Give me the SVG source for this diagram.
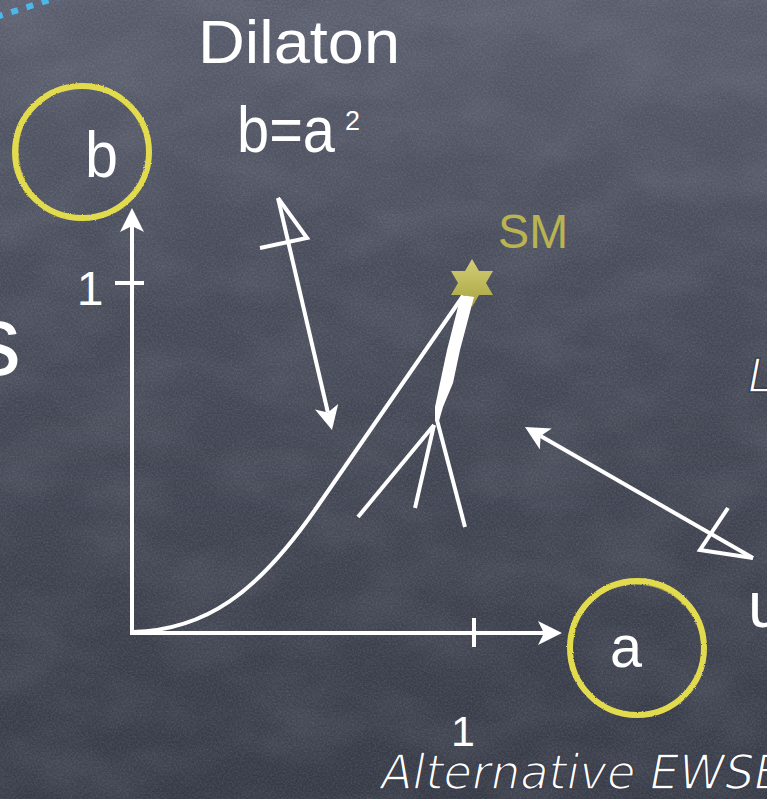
<svg xmlns="http://www.w3.org/2000/svg" width="767" height="799" viewBox="0 0 767 799">
  <defs>
    <linearGradient id="bg" x1="0" y1="0" x2="0" y2="1">
      <stop offset="0" stop-color="#575b6b"/>
      <stop offset="0.35" stop-color="#474b59"/>
      <stop offset="1" stop-color="#363a46"/>
    </linearGradient>
    <linearGradient id="starfill" x1="0" y1="0" x2="0" y2="1">
      <stop offset="0" stop-color="#d3cf78"/>
      <stop offset="1" stop-color="#a9a340"/>
    </linearGradient>
    <filter id="grain" x="0" y="0" width="100%" height="100%">
      <feTurbulence type="fractalNoise" baseFrequency="0.55" numOctaves="2" seed="7"/>
      <feColorMatrix type="matrix" values="0 0 0 0 1  0 0 0 0 1  0 0 0 0 1  0.2 0 0 0 -0.07"/>
    </filter>
    <filter id="blotch" x="0" y="0" width="100%" height="100%">
      <feTurbulence type="fractalNoise" baseFrequency="0.012 0.02" numOctaves="3" seed="11"/>
      <feColorMatrix type="matrix" values="0 0 0 0 0.8  0 0 0 0 0.82  0 0 0 0 0.9  0.14 0 0 0 -0.05"/>
    </filter>
    <filter id="chalk" x="-10%" y="-10%" width="120%" height="120%">
      <feTurbulence type="fractalNoise" baseFrequency="0.9" numOctaves="1" seed="3" result="t"/>
      <feDisplacementMap in="SourceGraphic" in2="t" scale="2.5" xChannelSelector="R" yChannelSelector="G"/>
    </filter>
    <marker id="ah" viewBox="0 0 24 24" refX="6" refY="12" markerWidth="24" markerHeight="24" markerUnits="userSpaceOnUse" orient="auto">
      <path d="M0,0 L24,12 L0,24 L6,12 Z" fill="#ffffff"/>
    </marker>
    <style>
      .chalk { font-family: "Liberation Sans", "DejaVu Sans", sans-serif; fill: #ffffff; }
      .hand { font-family: "DejaVu Sans", "Liberation Sans", sans-serif; font-weight: 200; font-style: italic; fill: #ffffff; stroke: #3c404c; stroke-width: 1.6; paint-order: normal; }
      .line { fill: none; stroke: #ffffff; stroke-width: 4; stroke-linecap: butt; stroke-linejoin: miter; }
      .ring { fill: none; stroke: #e2db4e; }
      .sm { font-family: "Liberation Sans", "DejaVu Sans", sans-serif; fill: #b9b451; }
    </style>
  </defs>

  <g id="background">
    <rect x="0" y="0" width="767" height="799" fill="url(#bg)"/>
    <rect x="0" y="0" width="767" height="799" filter="url(#blotch)"/>
    <rect x="0" y="0" width="767" height="799" filter="url(#grain)"/>
  </g>

  <g id="blue-dots">
    <line x1="-4" y1="17" x2="62" y2="-4" stroke="#4cb8ea" stroke-width="6" stroke-dasharray="7 9"/>
  </g>

  <g id="edge-text">
    <text class="chalk" x="21" y="375" font-size="100" text-anchor="end">s</text>
    <text class="hand" x="748" y="392" font-size="46">L</text>
    <text class="chalk" x="748" y="627" font-size="64">u</text>
  </g>

  <g id="label-dilaton">
    <text class="chalk" x="198" y="63" font-size="62" textLength="202" lengthAdjust="spacingAndGlyphs">Dilaton</text>
    <text class="chalk" x="237" y="152" font-size="64" textLength="98" lengthAdjust="spacingAndGlyphs">b=a</text>
    <text class="chalk" x="345" y="130" font-size="27">2</text>
  </g>

  <g id="node-b">
    <ellipse class="ring" cx="82" cy="152" rx="67" ry="66" stroke-width="6" filter="url(#chalk)"/>
    <ellipse class="ring" cx="83" cy="151" rx="65" ry="66" stroke-width="1.5" opacity="0.6" filter="url(#chalk)"/>
    <text class="chalk" x="85" y="177" font-size="64" textLength="33" lengthAdjust="spacingAndGlyphs">b</text>
  </g>

  <g id="node-a">
    <ellipse class="ring" cx="637" cy="648" rx="67" ry="67" stroke-width="6" filter="url(#chalk)"/>
    <ellipse class="ring" cx="636" cy="649" rx="66" ry="65" stroke-width="1.5" opacity="0.6" filter="url(#chalk)"/>
    <text class="chalk" x="610" y="667" font-size="60" textLength="32" lengthAdjust="spacingAndGlyphs">a</text>
  </g>

  <g id="axes">
    <line class="line" x1="132" y1="634" x2="132" y2="226" stroke-width="4.5" marker-end="url(#ah)"/>
    <line class="line" x1="130" y1="633" x2="544" y2="633" stroke-width="5" marker-end="url(#ah)"/>
    <line class="line" x1="115" y1="283" x2="144" y2="283"/>
    <line class="line" x1="474" y1="618" x2="474" y2="647"/>
    <text class="chalk" x="90" y="305" font-size="48" text-anchor="middle">1</text>
    <text class="chalk" x="463" y="746" font-size="43" text-anchor="middle">1</text>
  </g>

  <g id="node-sm">
    <polygon points="472,259 479,271 493,271 486,283 493,295 479,295 472,307 465,295 451,295 458,283 451,271 465,271" fill="url(#starfill)"/>
    <text class="sm" x="498" y="248" font-size="48" textLength="70" lengthAdjust="spacingAndGlyphs">SM</text>
  </g>

  <g id="curve">
    <path class="line" d="M133,632 C205,630 257,594 317,507 L463,296"/>
  </g>

  <g id="fan">
    <polygon points="461,295 474,297 460,350 453,383 443,407 439,421 435,421 435,407 440,383 447,350" fill="#ffffff"/>
    <line class="line" x1="434" y1="425" x2="358" y2="517"/>
    <line class="line" x1="434" y1="425" x2="415" y2="508"/>
    <line class="line" x1="437" y1="420" x2="465" y2="527"/>
  </g>

  <g id="connectors">
    <line class="line" x1="278" y1="198" x2="327.9" y2="412.5" marker-end="url(#ah)"/>
    <polyline class="line" points="260,248 307,238 278,198"/>
    <line class="line" x1="753" y1="558" x2="540.6" y2="436" marker-end="url(#ah)"/>
    <polyline class="line" points="728,508 700,550 753,558"/>
  </g>

  <g id="footer">
    <text class="hand" x="381" y="789" font-size="48" textLength="405" lengthAdjust="spacingAndGlyphs">Alternative EWSB</text>
  </g>
</svg>
